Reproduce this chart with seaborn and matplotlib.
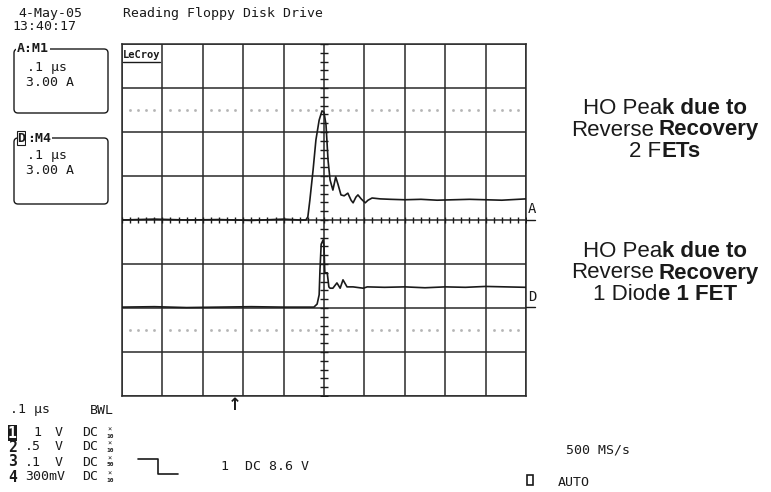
import numpy as np
import pandas as pd
import matplotlib
matplotlib.use("Agg")
import matplotlib.pyplot as plt
import seaborn as sns
from matplotlib.patches import FancyBboxPatch, Rectangle

# 画面サイズ (px)
W, H = 771, 492

# トレース A (M1): 時間 [ns], 画面上の目盛り [div]
time_a = [-500, -420, -340, -260, -180, -100, -60,
          -45, -40, -35, -27, -20, -12, -5,
          0, 5, 10, 15, 22, 29, 35, 42, 50, 59,
          67, 72, 79, 84, 92, 102, 109, 119, 139, 165,
          200, 240, 280, 320, 360, 400, 440, 480, 500]
level_a = [0.0, 0.02, 0.0, 0.01, -0.01, 0.02, 0.0,
           0.0, 0.07, 0.45, 1.14, 1.82, 2.27, 2.48,
           2.45, 2.16, 1.36, 0.91, 0.68, 0.98, 0.80, 0.57, 0.55, 0.61,
           0.45, 0.39, 0.52, 0.57, 0.48, 0.39, 0.45, 0.50, 0.48, 0.47,
           0.46, 0.47, 0.45, 0.46, 0.47, 0.46, 0.45, 0.47, 0.48]

# トレース D (M4)
time_d = [-500, -420, -340, -260, -180, -100, -40, -25,
          -17, -12, -10, -7, -2, 0, 2, 8, 12, 15, 22, 32, 40, 47, 57, 72, 97, 107,
          150, 200, 250, 300, 350, 400, 450, 500]
level_d = [-1.98, -1.97, -1.99, -1.98, -1.97, -1.98, -1.98, -1.98,
           -1.91, -1.70, -1.14, -0.55, -0.45, -0.60, -1.20, -1.20, -1.52, -1.55,
           -1.55, -1.43, -1.55, -1.36, -1.52, -1.52, -1.55, -1.52,
           -1.53, -1.52, -1.54, -1.52, -1.53, -1.51, -1.52, -1.53]

# 右側の注記（通常/太字の組み合わせ）
note_fets = [[("HO Pea", "normal", 0), ("k due to", "bold", 0)],
             [("Reverse", "normal", 0), ("Recovery", "bold", 3.8)],
             [("2 F", "normal", 0), ("ETs", "bold", 0)]]
note_diode = [[("HO Pea", "normal", 0), ("k due to", "bold", 0)],
              [("Reverse", "normal", 0), ("Recovery", "bold", 3.8)],
              [("1 Diod", "normal", 0), ("e 1 FET", "bold", 0)]]

# 左下のチャンネル設定
ch_numbers = ["1", "2", "3", "4"]
ch_scales = ["1", ".5", ".1", "300mV"]
ch_probe = ["10", "10", "50", "10"]

MONO = "DejaVu Sans Mono"
INK = "#1a1a1a"

sns.set_style("white")
plt.rcParams["font.family"] = ["DejaVu Sans"]

fig = plt.figure(figsize=(W / 100, H / 100), dpi=100)

# 波形表示エリア
ax = fig.add_axes([122 / W, 1 - 396 / H, 404 / W, 352 / H])
df = pd.concat([
    pd.DataFrame({"time_ns": time_a, "div": level_a, "trace": "A"}),
    pd.DataFrame({"time_ns": time_d, "div": level_d, "trace": "D"}),
])
sns.lineplot(data=df, x="time_ns", y="div", hue="trace", units="trace",
             estimator=None, sort=False, palette={"A": INK, "D": INK},
             linewidth=1.2, legend=False, ax=ax, zorder=4)
ax.set_xlim(-500, 500)
ax.set_ylim(-4, 4)
ax.set_xticks(np.arange(-500, 501, 100))
ax.set_yticks(np.arange(-4, 5, 1))
ax.grid(True, color="#2a2a2a", linewidth=1.1)
ax.tick_params(length=0, labelbottom=False, labelleft=False)
ax.set_xlabel("")
ax.set_ylabel("")
for sp in ax.spines.values():
    sp.set_color("#2a2a2a")
    sp.set_linewidth(1.1)

# 中央の目盛り
sub_x = np.arange(-500, 501, 20)
sub_y = np.arange(-4, 4.01, 0.2)
ax.plot(sub_x, np.zeros_like(sub_x), ls="none", marker="|", ms=5,
        mew=1.0, color=INK, zorder=3)
ax.plot(np.zeros_like(sub_y), sub_y, ls="none", marker="_", ms=6,
        mew=1.0, color=INK, zorder=3)
dots_x = sub_x[sub_x % 100 != 0]
for yy in (2.5, -2.5):
    ax.plot(dots_x, np.full_like(dots_x, yy, dtype=float), ls="none",
            marker="s", ms=0.9, color="#b4b4b4", zorder=2)

# 文字用の全面オーバーレイ (px 座標)
ov = fig.add_axes([0, 0, 1, 1], zorder=5)
ov.set_xlim(0, W)
ov.set_ylim(H, 0)
ov.set_axis_off()
ov.patch.set_alpha(0)


def mono(x, y, s, size=9.5, **kw):
    kw.setdefault("va", "center")
    kw.setdefault("color", INK)
    return ov.text(x, y, s, family=MONO, fontsize=size, **kw)


mono(18, 14, "4-May-05")
mono(12, 27, "13:40:17")
mono(123, 14, "Reading Floppy Disk Drive")

# A:M1 / D:M4 の枠
for top, bottom, title, lines in [(49, 113, "M1", (".1 μs", "3.00 A")),
                                  (138, 204, "M4", (".1 μs", "3.00 A"))]:
    ov.add_patch(FancyBboxPatch((14, top), 94, bottom - top,
                                boxstyle="round,pad=0,rounding_size=4",
                                fill=False, ec=INK, lw=1.0))
    mono(27, top + 18, lines[0])
    mono(26, top + 33, lines[1])
    if title == "M1":
        mono(17, top, "A:M1", weight="bold",
             bbox=dict(fc="white", ec="none", pad=0.5))
    else:
        mono(17, top, "D", weight="bold",
             bbox=dict(fc="white", ec=INK, lw=0.8, pad=0.3))
        mono(27, top, ":M4", weight="bold",
             bbox=dict(fc="white", ec="none", pad=0.5))

# LeCroy ロゴ
mono(123, 55, "LeCroy", size=7.5, weight="bold", ha="left")
ov.plot([123, 160], [62, 62], color=INK, lw=1.0)

# トレースラベル
mono(528, 209, "A", size=10, ha="left")
ov.plot([526, 535], [220, 220], color=INK, lw=1.0)
mono(528, 297, "D", size=10, ha="left")
ov.plot([526, 535], [307, 307], color=INK, lw=1.0)

# トリガ位置の矢印
ov.text(235, 405, "↑", fontsize=12, weight="bold", ha="center", va="center",
        color=INK)

# 左下の設定表示
row_y = [433, 447, 462, 477]
mono(10, 410, ".1 μs", ha="left")
mono(90, 410, "BWL", ha="left")
for i, (num, scale, probe) in enumerate(zip(ch_numbers, ch_scales, ch_probe)):
    y = row_y[i]
    if i == 0:
        mono(8, y, num, size=10.5, weight="bold", ha="left", color="white",
             bbox=dict(fc=INK, ec="none", pad=0.2))
    else:
        mono(8, y, num, size=10.5, weight="bold", ha="left")
    if scale.endswith("mV"):
        mono(25, y, scale, ha="left")
    else:
        mono(41, y, scale, ha="right")
        mono(55, y, "V", ha="left")
    mono(82, y, "DC", ha="left")
    ov.text(110, y - 3, "×", family=MONO, fontsize=5, ha="center",
            va="center", color=INK)
    ov.text(110, y + 3, probe, family=MONO, fontsize=4.5, ha="center",
            va="center", color=INK, weight="bold")

# トリガ表示
ov.plot([138, 158, 158, 178], [459, 459, 474, 474], color=INK, lw=1.2)
mono(221, 466, "1  DC 8.6 V", ha="left")
mono(566, 450, "500 MS/s", ha="left")
ov.add_patch(Rectangle((527, 475), 6, 10, fill=False, ec=INK, lw=1.2))
mono(558, 482, "AUTO", ha="left")

# 右側の注記
SANS = "Liberation Sans"
FS = 16
groups = []


def mixed_line(cy, parts):
    texts = []
    prev = None
    for s, weight, gap in parts:
        if prev is None:
            t = ov.text(0, cy + 12, s, family=SANS, fontsize=FS,
                        fontweight=weight, ha="left", va="bottom", color=INK)
        else:
            t = ov.annotate(s, xy=(1, 0), xycoords=prev,
                            xytext=(gap, 0), textcoords="offset points",
                            family=SANS, fontsize=FS, fontweight=weight,
                            ha="left", va="bottom", color=INK,
                            annotation_clip=False)
        texts.append(t)
        prev = t
    groups.append(texts)


for i, parts in enumerate(note_fets):
    mixed_line(107 + 21.5 * i, parts)
for i, parts in enumerate(note_diode):
    mixed_line(250 + 21.5 * i, parts)

fig.canvas.draw()
r = fig.canvas.get_renderer()
for texts in groups:
    x0 = texts[0].get_window_extent(r).x0
    x1 = texts[-1].get_window_extent(r).x1
    width = x1 - x0
    texts[0].set_x(665 - width / 2)

fig.savefig("out.png", dpi=100)
